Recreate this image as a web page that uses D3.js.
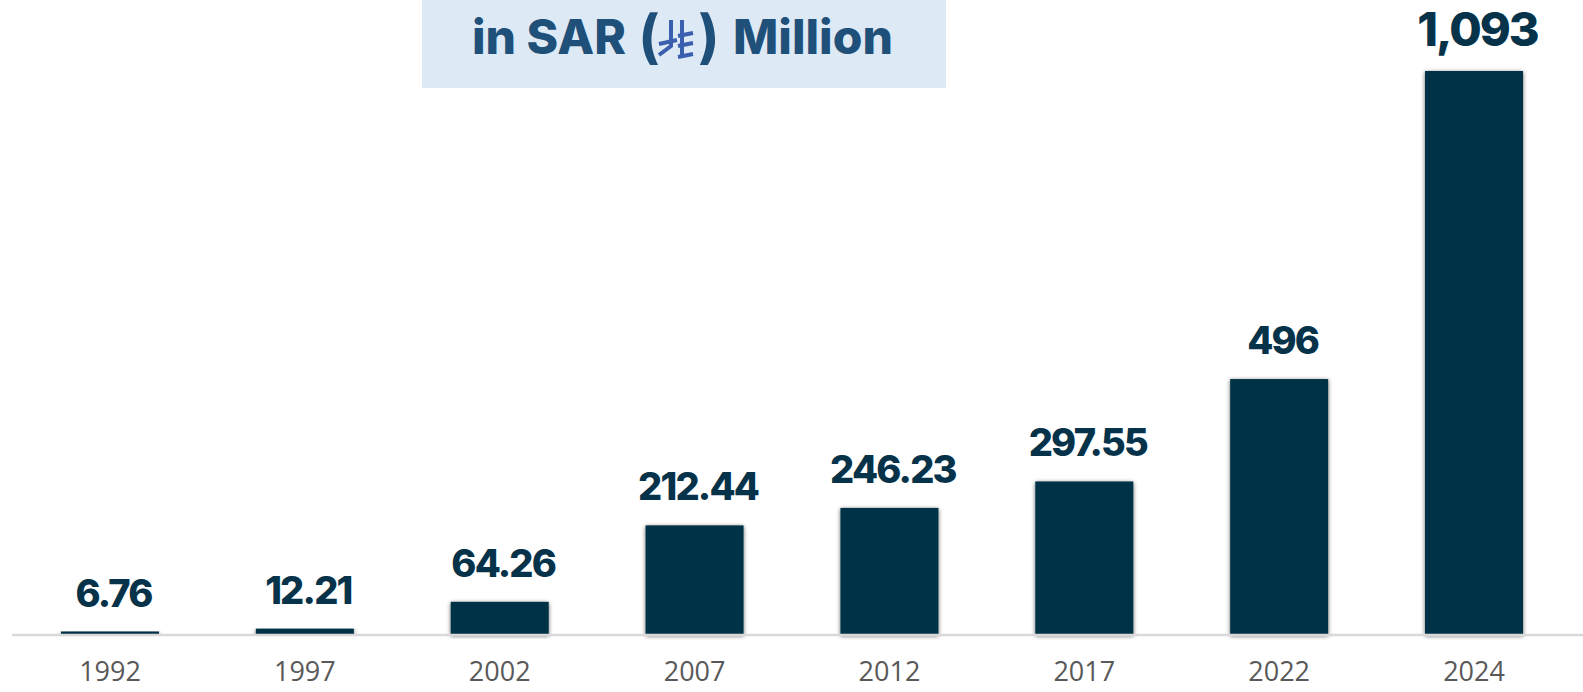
<!DOCTYPE html>
<html><head><meta charset="utf-8">
<script src="https://cdnjs.cloudflare.com/ajax/libs/d3/7.8.5/d3.min.js"></script>
<style>html,body{margin:0;padding:0;background:#fff;overflow:hidden}svg{display:block}</style>
</head><body><svg id="c" width="1583" height="692"></svg>
<script>
const years=["1992","1997","2002","2007","2012","2017","2022","2024"];
const values=[6.76,12.21,64.26,212.44,246.23,297.55,496,1093];
const labels=["6.76","12.21","64.26","212.44","246.23","297.55","496","1,093"];
const W=1583,H=692,base=635,step=194.86,left=110-step/2;
const svg=d3.select("#c");
const defs=svg.append("defs");
const f=defs.append("filter").attr("id","sh").attr("x","-10%").attr("y","-10%").attr("width","120%").attr("height","120%");
f.append("feDropShadow").attr("dx",0).attr("dy",1).attr("stdDeviation",2.2).attr("flood-color","#000").attr("flood-opacity",.6);
const x=d3.scaleBand().domain(years).range([left,left+step*8]).paddingInner(1-98/step).paddingOuter((1-98/step)/2);
const y=d3.scaleLinear().domain([0,1093]).range([base,71]);
// heading
svg.append("rect").attr("x",422).attr("y",0).attr("width",524).attr("height",88).attr("fill","#dde9f5");
const head=(s,xx,anchor,size,yy,w)=>svg.append("text").attr("x",xx).attr("y",yy).attr("text-anchor",anchor)
  .attr("font-family","Inter").attr("font-weight",w||800).attr("font-size",size).attr("fill","#1f5079").text(s);
head("in SAR",472,"start",48,54);
head("(",638,"start",58,57,700);
head(")",698,"start",58,57,700);
head("Million",733,"start",48,54);
// riyal sign
const g=svg.append("g").attr("fill","none").attr("stroke","#3a5fae").attr("stroke-width",4);
[[[671,20],[671,46],[659,55]],[[682,20],[682,56]],[[659,44],[677,40]],[[678,36],[693,33]],[[678,46],[693,43]],[[678,57],[693,54]]]
 .forEach(p=>g.append("path").attr("d",d3.line()(p)));
// bars
svg.append("g").selectAll("rect").data(years).join("rect")
 .attr("x",d=>x(d)).attr("width",x.bandwidth())
 .attr("y",(d,i)=>y(values[i])).attr("height",(d,i)=>base-y(values[i]))
 .attr("fill","#053246").attr("filter","url(#sh)");
// axis
const ax=svg.append("g").attr("transform",`translate(0,${base})`).call(d3.axisBottom(x).tickSize(0).tickPadding(27));
ax.select(".domain").attr("d","M12,0H1583").attr("stroke","#d9d9d9").attr("stroke-width",2.5);
ax.selectAll("text").attr("font-family","Open Sans").attr("font-size",27).attr("fill","#595959");
// labels
svg.append("g").selectAll("text").data(years).join("text")
 .attr("x",d=>x(d)+x.bandwidth()/2+3.5).attr("y",(d,i)=>y(values[i])-25)
 .attr("text-anchor","middle").attr("font-family","Inter").attr("font-weight",800)
 .attr("letter-spacing",(d,i)=>i==7?-2:-1.8)
 .attr("font-size",(d,i)=>i==7?47:38).attr("fill","#06334a")
 .text((d,i)=>labels[i]);
</script></body></html>
